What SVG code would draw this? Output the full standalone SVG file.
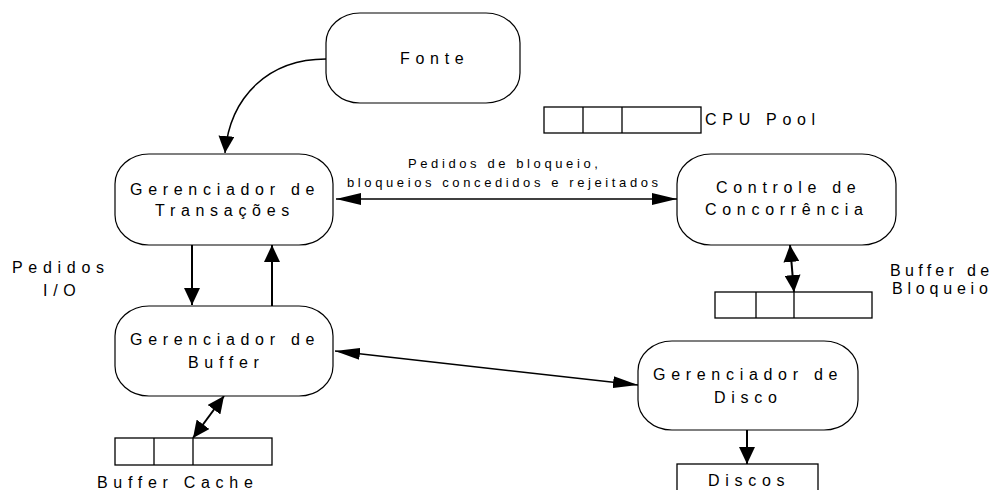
<svg xmlns="http://www.w3.org/2000/svg" width="1000" height="490" viewBox="0 0 1000 490">
  <style>
    .node { fill: #fff; stroke: #000; stroke-width: 1.2; }
    .cell { fill: #fff; stroke: #000; stroke-width: 1.3; }
    .lbl { font-family: "Liberation Sans", Arial, sans-serif; font-size: 16px; letter-spacing: 5.7px; fill: #000; }
    .sm { font-family: "Liberation Sans", Arial, sans-serif; font-size: 13px; letter-spacing: 3.6px; fill: #000; }
    .edge { fill: none; stroke: #000; stroke-width: 1.5; }
    .thick { fill: none; stroke: #000; stroke-width: 2; }
  </style>
  <defs>
    <!-- short, wide head -->
    <marker id="head" markerUnits="userSpaceOnUse" markerWidth="17" markerHeight="16" refX="17" refY="8" orient="auto-start-reverse" viewBox="0 0 17 16">
      <path d="M0,0 L17,8 L0,16 z" fill="#000"/>
    </marker>
    <!-- long, narrow head -->
    <marker id="long" markerUnits="userSpaceOnUse" markerWidth="25" markerHeight="12" refX="25" refY="6" orient="auto-start-reverse" viewBox="0 0 25 12">
      <path d="M0,0 L25,6 L0,12 z" fill="#000"/>
    </marker>
  </defs>

  <g id="connectors">
    <path class="edge" d="M326,59 C270,59 230,95 225,153" marker-end="url(#head)"/>
    <line class="edge" x1="336" y1="199" x2="677" y2="199" marker-start="url(#long)" marker-end="url(#long)"/>
    <line class="thick" x1="192" y1="245" x2="192" y2="305" marker-end="url(#head)"/>
    <line class="thick" x1="272" y1="306" x2="272" y2="245" marker-end="url(#head)"/>
    <line class="thick" x1="790" y1="245" x2="794" y2="292" marker-start="url(#head)" marker-end="url(#head)"/>
    <line class="thick" x1="224" y1="396" x2="193" y2="438" marker-start="url(#head)" marker-end="url(#head)"/>
    <line class="edge" x1="335" y1="351" x2="638" y2="385" marker-start="url(#long)" marker-end="url(#long)"/>
    <line class="thick" x1="747" y1="430" x2="747" y2="464" marker-end="url(#head)"/>
    <text class="sm" x="408" y="168">Pedidos de bloqueio,</text>
    <text class="sm" x="347" y="187">bloqueios concedidos e rejeitados</text>
    <text class="lbl" x="12" y="273">Pedidos</text>
    <text class="lbl" x="43" y="296">I/O</text>
  </g>

  <g id="fonte">
    <rect class="node" x="326" y="13" width="194" height="90" rx="34" ry="30"/>
    <text class="lbl" x="400" y="64">Fonte</text>
  </g>

  <g id="cpu-pool">
    <rect class="cell" x="544" y="107" width="157" height="26"/>
    <line class="cell" x1="583" y1="107" x2="583" y2="133"/>
    <line class="cell" x1="622" y1="107" x2="622" y2="133"/>
    <text class="lbl" x="705" y="125">CPU Pool</text>
  </g>

  <g id="gerenciador-transacoes">
    <rect class="node" x="115" y="154" width="218" height="91" rx="34" ry="30"/>
    <text class="lbl" x="130" y="195">Gerenciador de</text>
    <text class="lbl" x="155" y="216">Transações</text>
  </g>

  <g id="controle-concorrencia">
    <rect class="node" x="677" y="154" width="219" height="91" rx="34" ry="30"/>
    <text class="lbl" x="716" y="193">Controle de</text>
    <text class="lbl" x="705" y="215">Concorrência</text>
  </g>

  <g id="buffer-bloqueio">
    <rect class="cell" x="715" y="292" width="157" height="26"/>
    <line class="cell" x1="756" y1="292" x2="756" y2="318"/>
    <line class="cell" x1="794" y1="292" x2="794" y2="318"/>
    <text class="lbl" x="890" y="276" style="letter-spacing:4.3px">Buffer de</text>
    <text class="lbl" x="892" y="294" style="letter-spacing:4.8px">Bloqueio</text>
  </g>

  <g id="gerenciador-buffer">
    <rect class="node" x="115" y="306" width="218" height="90" rx="34" ry="30"/>
    <text class="lbl" x="130" y="345">Gerenciador de</text>
    <text class="lbl" x="188" y="368">Buffer</text>
  </g>

  <g id="buffer-cache">
    <rect class="cell" x="115" y="438" width="157" height="27"/>
    <line class="cell" x1="154" y1="438" x2="154" y2="465"/>
    <line class="cell" x1="193" y1="438" x2="193" y2="465"/>
    <text class="lbl" x="97" y="488">Buffer Cache</text>
  </g>

  <g id="gerenciador-disco">
    <rect class="node" x="638" y="341" width="220" height="89" rx="34" ry="30"/>
    <text class="lbl" x="653" y="380">Gerenciador de</text>
    <text class="lbl" x="714" y="403">Disco</text>
  </g>

  <g id="discos">
    <rect class="cell" x="677" y="464" width="141" height="40"/>
    <text class="lbl" x="708" y="486">Discos</text>
  </g>
</svg>
